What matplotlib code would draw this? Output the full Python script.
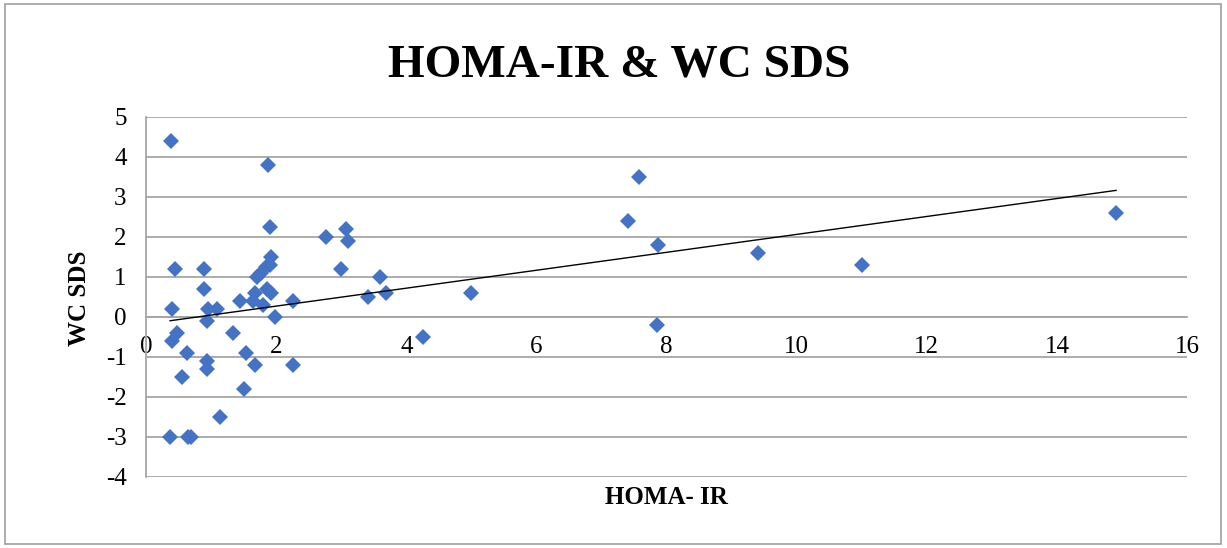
"""
HOMA-IR vs WC SDS scatter with linear trendline.
"""
import matplotlib

matplotlib.use("Agg")
import matplotlib.pyplot as plt
from matplotlib.patches import Rectangle
import numpy as np

# values
homa_ir = [
    0.38, 1.87, 1.90, 0.44, 0.89, 1.92, 1.90, 1.85, 1.77, 1.70,
    0.89, 0.40, 0.95, 1.09, 0.93, 0.47, 0.40, 0.63, 0.94, 0.94,
    0.56, 1.14, 0.37, 0.64, 0.69, 1.33, 1.53, 1.67, 1.51, 2.26,
    1.45, 1.64, 1.68, 1.80, 1.86, 1.92, 1.98, 2.26,
    2.77, 3.08, 3.11, 3.00, 3.60, 3.41, 3.69, 5.00, 4.26,
    7.57, 7.41, 7.87, 9.40, 11.01, 7.85, 14.91,
]
wc_sds = [
    4.4, 3.8, 2.25, 1.2, 1.2, 1.5, 1.3, 1.25, 1.1, 1.0,
    0.7, 0.2, 0.2, 0.2, -0.1, -0.4, -0.6, -0.9, -1.1, -1.3,
    -1.5, -2.5, -3.0, -3.0, -3.0, -0.4, -0.9, -1.2, -1.8, -1.2,
    0.4, 0.4, 0.6, 0.3, 0.7, 0.6, 0.0, 0.4,
    2.0, 2.2, 1.9, 1.2, 1.0, 0.5, 0.6, 0.6, -0.5,
    3.5, 2.4, 1.8, 1.6, 1.3, -0.2, 2.6,
]
x_ticks = [0, 2, 4, 6, 8, 10, 12, 14, 16]
y_ticks = [-4, -3, -2, -1, 0, 1, 2, 3, 4, 5]

plt.rcParams["font.family"] = ["Liberation Serif", "DejaVu Serif"]
plt.rcParams["axes.unicode_minus"] = False

fig = plt.figure(figsize=(12.27, 5.48), dpi=100)
ax = fig.add_axes([0.119, 0.1296, 0.9674 - 0.119, 0.7865 - 0.1296])

grid_col = "#a6a6a6"
for yv in y_ticks:
    ax.axhline(yv, color=grid_col, lw=1.3, zorder=1)

x = np.array(homa_ir)
y = np.array(wc_sds)
ax.plot(x, y, ls="none", marker="D", ms=8.5, color="#4472C4",
        markeredgewidth=0, zorder=3)

# linear trendline across the data range
slope, icpt = np.polyfit(x, y, 1)
xs = np.array([x.min(), x.max()])
ax.plot(xs, slope * xs + icpt, color="black", lw=1.0, zorder=4)

ax.set_xlim(0, 16)
ax.set_ylim(-4, 5)
ax.set_xticks(x_ticks)
ax.set_yticks(y_ticks)

for s in ("top", "right"):
    ax.spines[s].set_visible(False)
ax.spines["bottom"].set_position(("data", 0))
ax.spines["bottom"].set_color(grid_col)
ax.spines["bottom"].set_linewidth(1.3)
ax.spines["left"].set_color(grid_col)
ax.spines["left"].set_linewidth(1.3)
ax.tick_params(axis="both", length=0, labelsize=18)
ax.tick_params(axis="x", pad=14)
ax.tick_params(axis="y", pad=14)

fig.text(0.505, 0.8595, "HOMA-IR & WC SDS", fontsize=34, fontweight="bold",
         ha="center", va="baseline")
fig.text(0.0644, 0.456, "WC SDS", fontsize=18, fontweight="bold",
         rotation=90, ha="center", va="center")
fig.text(0.5435, 0.093, "HOMA- IR", fontsize=18, fontweight="bold",
         ha="center", va="center")

fig.patches.append(Rectangle((0.004, 0.008), 0.991, 0.984, transform=fig.transFigure,
                             fill=False, edgecolor="#a6a6a6", lw=1.3))

fig.savefig("out.png", dpi=100)
